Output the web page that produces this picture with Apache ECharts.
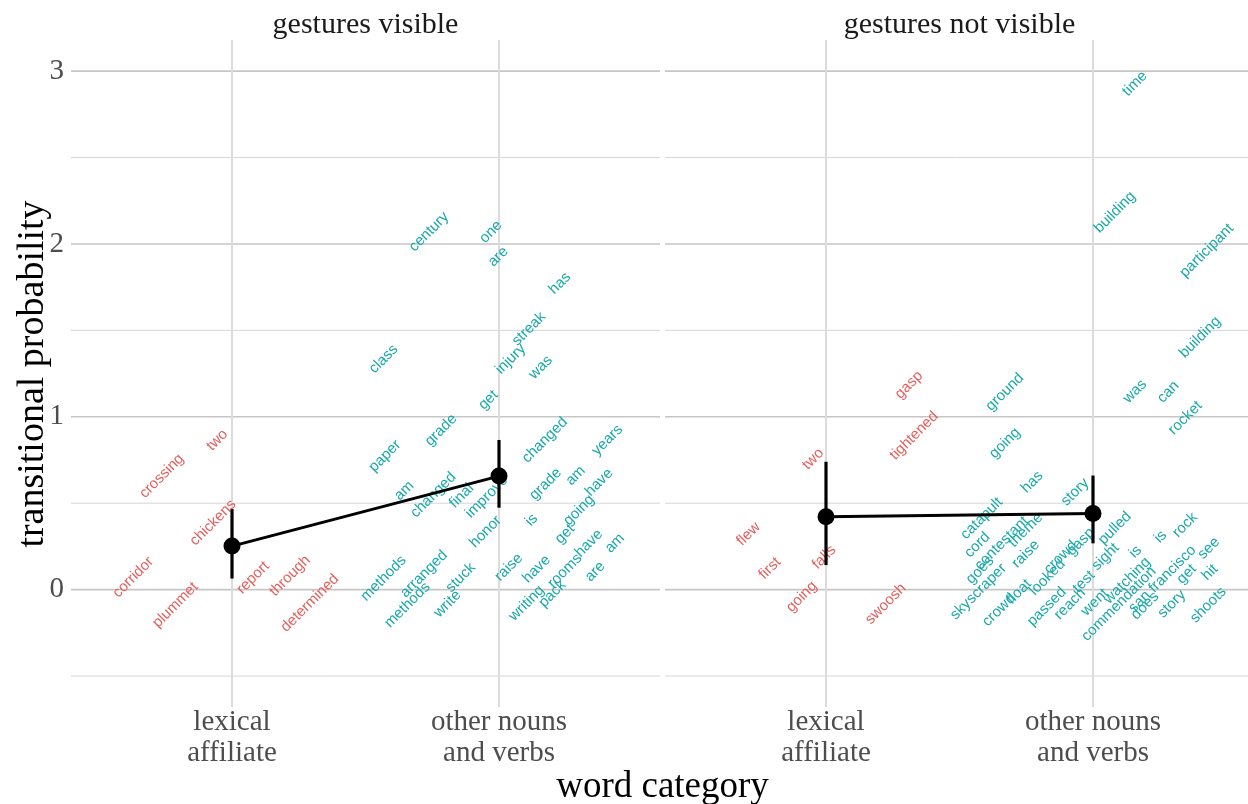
<!DOCTYPE html>
<html>
<head>
<meta charset="utf-8">
<script src="https://cdn.jsdelivr.net/npm/echarts@6/dist/echarts.min.js"></script>
<style>
  html, body { margin: 0; padding: 0; background: #ffffff; }
  #chart { width: 1248px; height: 804px; }
</style>
</head>
<body>
<div id="chart"></div>
<script>
// Facets, categories and axis breaks
const facets = ['gestures visible', 'gestures not visible'];
const categories = ['lexical\naffiliate', 'other nouns\nand verbs'];
const yMajor = [0, 1, 2, 3];
const yMinor = [-0.5, 0.5, 1.5, 2.5];
const categoryPos = [1, 2];

// Individual words: [word, jittered category position, transitional probability]
const visibleLexical = [
  ['two', 0.945, 0.865], ['crossing', 0.737, 0.657], ['chickens', 0.929, 0.387],
  ['corridor', 0.630, 0.071], ['plummet', 0.788, -0.089], ['report', 1.079, 0.069],
  ['through', 1.217, 0.080], ['determined', 1.292, -0.078]
];
const visibleOther = [
  ['century', 1.738, 2.070], ['one', 1.970, 2.070], ['are', 1.997, 1.926], ['has', 2.228, 1.772],
  ['streak', 2.112, 1.508], ['class', 1.568, 1.334], ['injury', 2.044, 1.334], ['was', 2.156, 1.286],
  ['get', 1.960, 1.097], ['grade', 1.783, 0.923], ['paper', 1.573, 0.773], ['changed', 2.172, 0.865],
  ['years', 2.406, 0.865], ['am', 1.645, 0.572], ['changed', 1.754, 0.547], ['final', 1.860, 0.543],
  ['improve', 1.954, 0.537], ['grade', 2.175, 0.611], ['am', 2.287, 0.659], ['have', 2.375, 0.621],
  ['going', 2.300, 0.460], ['honor', 1.950, 0.335], ['is', 2.122, 0.403], ['get', 2.247, 0.322],
  ['have', 2.337, 0.268], ['am', 2.434, 0.268], ['methods', 1.568, 0.065], ['arranged', 1.719, 0.090],
  ['methods', 1.657, -0.089], ['stuck', 1.857, 0.069], ['write', 1.807, -0.083], ['raise', 2.037, 0.129],
  ['have', 2.141, 0.119], ['rooms', 2.247, 0.109], ['are', 2.360, 0.104], ['writing', 2.104, -0.079],
  ['pack', 2.200, -0.025]
];
const hiddenLexical = [
  ['gasp', 1.311, 1.184], ['tightened', 1.330, 0.890], ['two', 0.952, 0.756], ['flew', 0.710, 0.322],
  ['first', 0.790, 0.123], ['falls', 0.993, 0.187], ['going', 0.909, -0.041], ['swoosh', 1.224, -0.083]
];
const hiddenOther = [
  ['time', 2.157, 2.927], ['building', 2.082, 2.183], ['participant', 2.426, 1.961],
  ['building', 2.401, 1.460], ['was', 2.157, 1.147], ['can', 2.282, 1.143], ['rocket', 2.346, 0.994],
  ['ground', 1.670, 1.143], ['going', 1.670, 0.848], ['has', 1.772, 0.622], ['story', 1.933, 0.564],
  ['catapult', 1.583, 0.412], ['cord', 1.567, 0.258], ['contestant', 1.658, 0.268], ['theme', 1.748, 0.345],
  ['goes', 1.577, 0.113], ['skyscraper', 1.571, -0.012], ['raise', 1.748, 0.206], ['crowd', 1.879, 0.187],
  ['gasp', 1.954, 0.277], ['pulled', 2.082, 0.355], ['crowd', 1.648, -0.118], ['float', 1.723, -0.012],
  ['looked', 1.829, 0.071], ['passed', 1.827, -0.099], ['test', 1.966, 0.046], ['sight', 2.047, 0.190],
  ['reach', 1.914, -0.083], ['went', 2.007, -0.073], ['watching', 2.128, 0.052], ['is', 2.159, 0.219],
  ['is', 2.253, 0.306], ['rock', 2.345, 0.374], ['commendation', 2.097, -0.083],
  ['san francisco', 2.260, 0.061], ['does', 2.195, -0.093], ['see', 2.434, 0.239], ['get', 2.351, 0.090],
  ['hit', 2.438, 0.100], ['story', 2.295, -0.083], ['shoots', 2.432, -0.089]
];

// Means with interval bounds per category
const visibleMean = [0.252, 0.657];
const visibleLow = [0.064, 0.474];
const visibleHigh = [0.466, 0.866];
const hiddenMean = [0.422, 0.441];
const hiddenLow = [0.142, 0.268];
const hiddenHigh = [0.740, 0.660];

const RED = '#e35f5c';
const TEAL = '#19a8a8';
const SERIF = '"Liberation Serif", "DejaVu Serif", serif';
const SANS = '"Liberation Sans", Arial, sans-serif';

// Both panels share one x scale; the right panel is cut at the canvas edge
const X_MIN = 0.397;
const PX_PER_UNIT = 267;
const panelLeft = [71, 665];
const panelWidth = [589, 583];
const xMax = panelWidth.map(w => X_MIN + w / PX_PER_UNIT);
const Y_MIN = -0.679, Y_MAX = 3.18;

const chart = echarts.init(document.getElementById('chart'), null, { renderer: 'canvas' });

function hLines(values, color, width, idx) {
  return {
    type: 'custom', xAxisIndex: idx, yAxisIndex: idx, silent: true, z: 0, clip: false,
    data: values.map(v => [v]),
    renderItem: (params, api) => {
      const cs = params.coordSys;
      const y = api.coord([1, api.value(0)])[1];
      return { type: 'line', shape: { x1: cs.x, y1: y, x2: cs.x + cs.width, y2: y },
               style: { stroke: color, lineWidth: width } };
    }
  };
}
function vLines(values, color, width, idx) {
  return {
    type: 'custom', xAxisIndex: idx, yAxisIndex: idx, silent: true, z: 0, clip: false,
    data: values.map(v => [v]),
    renderItem: (params, api) => {
      const cs = params.coordSys;
      const x = api.coord([api.value(0), 0])[0];
      return { type: 'line', shape: { x1: x, y1: cs.y, x2: x, y2: cs.y + cs.height },
               style: { stroke: color, lineWidth: width } };
    }
  };
}
function words(list, color, idx) {
  return {
    type: 'custom', xAxisIndex: idx, yAxisIndex: idx, silent: true, z: 2,
    data: list.map(w => [w[1], w[2], w[0]]),
    renderItem: (params, api) => {
      const p = api.coord([api.value(0), api.value(1)]);
      return { type: 'text', x: p[0], y: p[1], rotation: Math.PI / 4,
               style: { text: api.value(2), fill: color, font: '15px ' + SANS,
                        align: 'center', verticalAlign: 'middle' } };
    }
  };
}
function errorBars(low, high, idx) {
  return {
    type: 'custom', xAxisIndex: idx, yAxisIndex: idx, silent: true, z: 3,
    data: categoryPos.map((c, i) => [c, low[i], high[i]]),
    renderItem: (params, api) => {
      const a = api.coord([api.value(0), api.value(1)]);
      const b = api.coord([api.value(0), api.value(2)]);
      return { type: 'line', shape: { x1: a[0], y1: a[1], x2: b[0], y2: b[1] },
               style: { stroke: '#000', lineWidth: 3.2 } };
    }
  };
}
function means(vals, idx) {
  return {
    type: 'line', xAxisIndex: idx, yAxisIndex: idx, silent: true, z: 4,
    data: categoryPos.map((c, i) => [c, vals[i]]),
    symbol: 'circle', symbolSize: 17,
    itemStyle: { color: '#000' },
    lineStyle: { color: '#000', width: 3 },
    animation: false
  };
}

const option = {
  animation: false,
  backgroundColor: '#ffffff',
  grid: [0, 1].map(i => ({ left: panelLeft[i], top: 40, width: panelWidth[i], height: 667, containLabel: false })),
  xAxis: [0, 1].map(i => ({
    type: 'value', gridIndex: i, min: X_MIN, max: xMax[i],
    axisLine: { show: false }, axisTick: { show: false }, splitLine: { show: false },
    axisLabel: {
      customValues: categoryPos, formatter: v => categories[Math.round(v) - 1],
      fontFamily: SERIF, fontSize: 29, color: '#4d4d4d', lineHeight: 31, margin: 0
    }
  })),
  yAxis: [0, 1].map(i => ({
    type: 'value', gridIndex: i, min: Y_MIN, max: Y_MAX,
    axisLine: { show: false }, axisTick: { show: false }, splitLine: { show: false },
    axisLabel: {
      show: i === 0, customValues: yMajor,
      fontFamily: SERIF, fontSize: 29, color: '#4d4d4d', margin: 7
    }
  })),
  graphic: [
    { type: 'text', x: panelLeft[0] + 589 / 2, y: 25,
      style: { text: facets[0], font: '30px ' + SERIF, fill: '#1a1a1a', align: 'center', verticalAlign: 'middle' } },
    { type: 'text', x: panelLeft[1] + 589 / 2, y: 25,
      style: { text: facets[1], font: '30px ' + SERIF, fill: '#1a1a1a', align: 'center', verticalAlign: 'middle' } },
    { type: 'text', x: (panelLeft[0] + panelLeft[1] + 589) / 2, y: 787,
      style: { text: 'word category', font: '37px ' + SERIF, fill: '#000', align: 'center', verticalAlign: 'middle' } },
    { type: 'text', x: 33, y: 374, rotation: Math.PI / 2,
      style: { text: 'transitional probability', font: '38px ' + SERIF, fill: '#000', align: 'center', verticalAlign: 'middle' } }
  ],
  series: [
    hLines(yMinor, '#d6d6d6', 1, 0), hLines(yMajor, '#c6c6c6', 1.6, 0), vLines(categoryPos, '#dcdcdc', 2, 0),
    hLines(yMinor, '#d6d6d6', 1, 1), hLines(yMajor, '#c6c6c6', 1.6, 1), vLines(categoryPos, '#dcdcdc', 2, 1),
    words(visibleLexical, RED, 0), words(visibleOther, TEAL, 0),
    words(hiddenLexical, RED, 1), words(hiddenOther, TEAL, 1),
    errorBars(visibleLow, visibleHigh, 0), errorBars(hiddenLow, hiddenHigh, 1),
    means(visibleMean, 0), means(hiddenMean, 1)
  ]
};
chart.setOption(option);
</script>
</body>
</html>
